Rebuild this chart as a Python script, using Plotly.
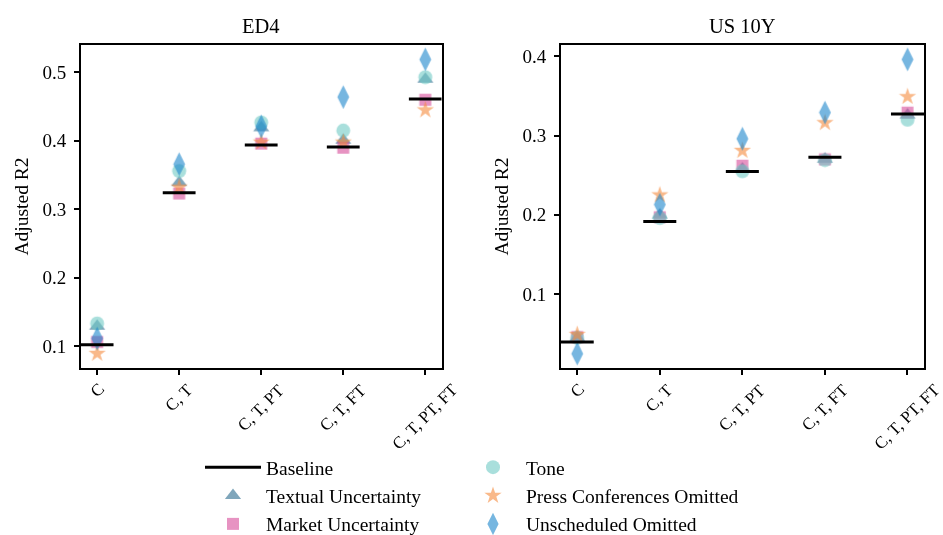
import plotly.graph_objects as go

# ---------------- data ----------------
categories = ["C", "C, T", "C, T, PT", "C, T, FT", "C, T, PT, FT"]

ed4_baseline = [0.102, 0.324, 0.394, 0.391, 0.461]
ed4_textual = [0.129, 0.339, 0.419, 0.401, 0.490]
ed4_market = [0.106, 0.323, 0.396, 0.390, 0.460]
ed4_tone = [0.133, 0.356, 0.427, 0.415, 0.493]
ed4_press = [0.089, 0.332, 0.398, 0.398, 0.445]
ed4_unsched = [0.111, 0.366, 0.421, 0.464, 0.519]

us10_baseline = [0.0395, 0.1916, 0.2546, 0.2727, 0.327]
us10_textual = [0.045, 0.200, 0.258, 0.270, 0.326]
us10_market = [0.0458, 0.197, 0.262, 0.270, 0.329]
us10_tone = [0.045, 0.196, 0.255, 0.269, 0.320]
us10_press = [0.049, 0.225, 0.281, 0.316, 0.349]
us10_unsched = [0.025, 0.213, 0.296, 0.329, 0.396]

panel_titles = ["ED4", "US 10Y"]
y_title = "Adjusted R2"
yticks_left = [0.1, 0.2, 0.3, 0.4, 0.5]
yticks_right = [0.1, 0.2, 0.3, 0.4]

series_names = ["Textual Uncertainty", "Market Uncertainty", "Tone",
                "Press Conferences Omitted", "Unscheduled Omitted"]

# ---------------- style ----------------
FONT = "Times New Roman, Liberation Serif, serif"
styles = {
    "Textual Uncertainty": dict(symbol="triangle-up", size=14, color="#2a6b8e", legend="legend", rank=2),
    "Market Uncertainty": dict(symbol="square", size=12, color="#d74b99", legend="legend", rank=3),
    "Tone": dict(symbol="circle", size=14, color="#71cac5", legend="legend2", rank=1),
    "Press Conferences Omitted": dict(symbol="star", size=13, color="#f58a3c", legend="legend2", rank=2),
    "Unscheduled Omitted": dict(symbol="diamond-tall", size=17, color="#1b85cb", legend="legend2", rank=3),
}
OPACITY = 0.6
HALF = 0.2

W, H = 943, 535
x_domains = [[80.7 / W, 441.7 / W], [560.7 / W, 924 / W]]
y_domain = [1 - 368.3 / H, 1 - 44.7 / H]

panels = [
    dict(base=ed4_baseline, data=[ed4_textual, ed4_market, ed4_tone, ed4_press, ed4_unsched], ticks=yticks_left),
    dict(base=us10_baseline, data=[us10_textual, us10_market, us10_tone, us10_press, us10_unsched], ticks=yticks_right),
]

fig = go.Figure()
idx = list(range(len(categories)))

for p, panel in enumerate(panels):
    xa = "x" if p == 0 else "x2"
    ya = "y" if p == 0 else "y2"
    for name, vals in zip(series_names, panel["data"]):
        st = styles[name]
        fig.add_trace(go.Scatter(
            x=idx, y=vals, mode="markers", name=name, xaxis=xa, yaxis=ya,
            marker=dict(symbol=st["symbol"], size=st["size"], color=st["color"], line=dict(width=0)),
            opacity=OPACITY, showlegend=(p == 0), legend=st["legend"], legendrank=st["rank"],
            legendgroup=name,
        ))
    bx, by = [], []
    for i, v in zip(idx, panel["base"]):
        bx += [i - HALF, i + HALF, None]
        by += [v, v, None]
    fig.add_trace(go.Scatter(
        x=bx, y=by, mode="lines", name="Baseline", xaxis=xa, yaxis=ya,
        line=dict(color="black", width=3), showlegend=(p == 0), legend="legend",
        legendrank=1, legendgroup="Baseline",
    ))

def yrange(panel):
    allv = panel["base"] + [v for s in panel["data"] for v in s]
    lo, hi = min(allv), max(allv)
    m = 0.05 * (hi - lo)
    return [lo - m, hi + m]

axis_common = dict(showline=True, linecolor="black", linewidth=1.5, mirror=True,
                   ticks="outside", ticklen=5, tickwidth=1.5, tickcolor="black",
                   showgrid=False, zeroline=False,
                   tickfont=dict(family=FONT, size=19, color="black"))

legend_common = dict(xanchor="left", y=1 - 448 / H, yanchor="top", orientation="v",
                     font=dict(family=FONT, size=19.5, color="black"), tracegroupgap=0,
                     itemwidth=56, bgcolor="rgba(0,0,0,0)")

ytitle = dict(text=y_title, font=dict(family=FONT, size=19.5), standoff=9)

layout = dict(
    width=W, height=H, margin=dict(l=0, r=0, t=0, b=0, autoexpand=False),
    paper_bgcolor="white", plot_bgcolor="white",
    font=dict(family=FONT, color="black"),
    xaxis=dict(domain=x_domains[0], anchor="y", range=[-HALF, len(categories) - 1 + HALF],
               tickvals=idx, showticklabels=False, **axis_common),
    xaxis2=dict(domain=x_domains[1], anchor="y2", range=[-HALF, len(categories) - 1 + HALF],
                tickvals=idx, showticklabels=False, **axis_common),
    yaxis=dict(domain=y_domain, anchor="x", range=yrange(panels[0]), tickvals=panels[0]["ticks"],
               tickformat=".1f", title=ytitle, ticklabelstandoff=4, **axis_common),
    yaxis2=dict(domain=y_domain, anchor="x2", range=yrange(panels[1]), tickvals=panels[1]["ticks"],
                tickformat=".1f", title=ytitle, ticklabelstandoff=4, **axis_common),
    legend=dict(x=200 / W, **legend_common),
    legend2=dict(x=460 / W, **legend_common),
)
fig.update_layout(**layout)

annotations = []
for p in range(2):
    xr = "x" if p == 0 else "x2"
    d = x_domains[p]
    annotations.append(dict(text=panel_titles[p], xref="paper", yref="paper",
                            x=(d[0] + d[1]) / 2, y=1 - 26 / H, xanchor="center", yanchor="middle",
                            showarrow=False, font=dict(family=FONT, size=20.5, color="black")))
    for i, c in zip(idx, categories):
        annotations.append(dict(text=c, xref=xr, yref="paper", x=i, y=y_domain[0],
                                xanchor="center", yanchor="top", yshift=-9, textangle=-45,
                                showarrow=False, font=dict(family=FONT, size=17, color="black")))
fig.update_layout(annotations=annotations)

fig.write_html("out.html", config={"displayModeBar": False},
               post_script="document.body.style.margin='0';")
